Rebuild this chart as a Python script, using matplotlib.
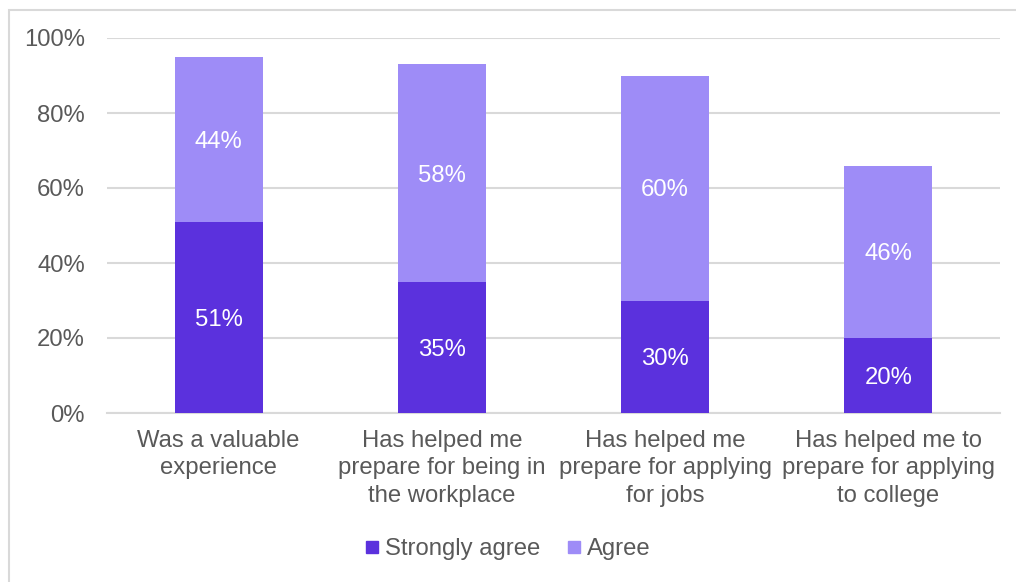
import matplotlib
matplotlib.use("Agg")
import matplotlib.pyplot as plt
from matplotlib.lines import Line2D
from matplotlib.patches import Rectangle
import numpy as np

plt.rcParams["font.family"] = ["Liberation Sans", "DejaVu Sans"]

categories = [
    "Was a valuable\nexperience",
    "Has helped me\nprepare for being in\nthe workplace",
    "Has helped me\nprepare for applying\nfor jobs",
    "Has helped me to\nprepare for applying\nto college",
]
strongly_agree = [51, 35, 30, 20]
agree = [44, 58, 60, 46]
series_names = ["Strongly agree", "Agree"]
y_ticks = [0, 20, 40, 60, 80, 100]

dark = "#5B31DD"
light = "#9E8CF7"
text_col = "#595959"
grid_col = "#D9D9D9"
fs = 17.2

W, H = 1016, 582
fig = plt.figure(figsize=(W / 100, H / 100), dpi=100)
ax = fig.add_axes([107 / W, 1 - 413 / H, (1000 - 107) / W, (413 - 38) / H])

# outer chart frame
fig.patches.append(Rectangle((8.5 / W, -0.05), 1.1, 1 - 9.5 / H + 0.05,
                             transform=fig.transFigure, fill=False,
                             edgecolor=grid_col, linewidth=1.5))

x = np.arange(len(categories))
width = 0.395
sa = np.array(strongly_agree)
ag = np.array(agree)
ax.bar(x, sa, width, color=dark, zorder=3)
ax.bar(x, ag, width, bottom=sa, color=light, zorder=3)

for xi, s, a in zip(x, sa, ag):
    ax.text(xi, s / 2, f"{s}%", ha="center", va="center_baseline", color="white",
            fontsize=fs, zorder=4)
    ax.text(xi, s + a / 2, f"{a}%", ha="center", va="center_baseline", color="white",
            fontsize=fs, zorder=4)

ax.set_xlim(-0.5, len(categories) - 0.5)
ax.set_ylim(0, 100)
ax.set_yticks(y_ticks)
ax.set_yticklabels([f"{t}%" for t in y_ticks])
ax.set_xticks(x)
ax.set_xticklabels(categories, linespacing=1.34)
ax.tick_params(axis="both", length=0, labelsize=fs, labelcolor=text_col)
ax.tick_params(axis="y", pad=16)
ax.tick_params(axis="x", pad=12)
ax.yaxis.grid(True, color=grid_col, linewidth=1.5, zorder=0)
for sp in ["top", "right", "left"]:
    ax.spines[sp].set_visible(False)
ax.spines["bottom"].set_color(grid_col)
ax.spines["bottom"].set_linewidth(1.5)

handles = [Line2D([], [], marker="s", linestyle="none", markersize=8.5,
                  markerfacecolor=c, markeredgecolor=c) for c in (dark, light)]
fig.legend(handles, series_names, loc="center", bbox_to_anchor=(0.5, 1 - 549 / H),
           ncol=2, frameon=False, fontsize=fs, labelcolor=text_col,
           handlelength=0.6, handletextpad=0.25, columnspacing=1.1)

fig.savefig("out.png", dpi=100, facecolor="white")
